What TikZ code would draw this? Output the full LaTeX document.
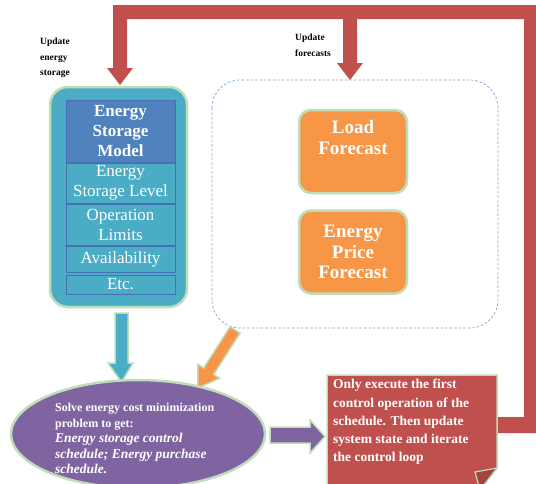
\documentclass[tikz,border=0pt]{standalone}
\usepackage{fontspec}
\setmainfont{Liberation Serif}
\usetikzlibrary{positioning,shapes.geometric}
\definecolor{loopred}{HTML}{C0504D}
\definecolor{storeteal}{HTML}{4BACC6}
\definecolor{headblue}{HTML}{4F81BD}
\definecolor{cellline}{HTML}{4A6FB5}
\definecolor{fcorange}{HTML}{F79646}
\definecolor{solvepurple}{HTML}{8064A2}
\definecolor{rimgreen}{HTML}{BEDDB8}
\definecolor{dashblue}{HTML}{7FA3D0}
\tikzset{
  rim/.style={draw=rimgreen, line width=2.5pt},
  cell/.style={draw=cellline, line width=1pt, fill=storeteal, text=white,
    minimum width=109pt, inner sep=0pt, align=center,
    font=\fontsize{17}{20}\selectfont},
  fcbox/.style={rim, fill=fcorange, rounded corners=12pt, text=white,
    minimum width=108pt, minimum height=83pt, align=center,
    font=\bfseries\fontsize{19}{20.5}\selectfont},
  updlabel/.style={align=left, inner sep=0pt, anchor=north west,
    font=\bfseries\fontsize{9.5}{15.5}\selectfont},
}
\begin{document}
\begin{tikzpicture}[x=1pt,y=-1pt]
  \useasboundingbox (0,0) rectangle (536,483);

  % feedback loop
  \fill[loopred] (497,417) -- (524,417) -- (524,19) -- (357,19) -- (357,63)
    -- (363,63) -- (350,80) -- (337,63) -- (343,63) -- (343,19) -- (127,19)
    -- (127,68) -- (133,68) -- (120,85) -- (107,68) -- (113,68) -- (113,5)
    -- (536,5) -- (536,433) -- (497,433) -- cycle;
  \node[updlabel] (updstore) at (40,38) {Update\\energy\\storage};
  \node[updlabel] (updfc) at (295,34) {Update\\forecasts};

  % storage model
  \draw[rim, fill=storeteal, rounded corners=18pt] (50,87) rectangle (187,307);
  \node[cell, fill=headblue, minimum height=62pt, font=\bfseries\fontsize{17}{20}\selectfont]
    (model) at (120.5,131) {Energy\\Storage\\Model};
  \node[cell, minimum height=40pt, below=0pt of model] (level) {Energy\\Storage Level};
  \node[cell, minimum height=41pt, below=0pt of level] (limits) {Operation\\Limits};
  \node[cell, minimum height=26pt, below=0pt of limits] (avail) {Availability};
  \node[cell, minimum height=19pt, below=2pt of avail] (etc) {Etc.};

  % forecasts
  \draw[dashblue, line width=0.7pt, dash pattern=on 2.5pt off 2pt, rounded corners=28pt]
    (212,80) rectangle (498,328);
  \node[fcbox] (load) at (353,151.5) {Load\\Forecast\\[8pt]};
  \node[fcbox, below=15pt of load] (price) {Energy\\Price\\Forecast};

  % block arrows
  \filldraw[rim, line width=1.5pt, fill=storeteal] (115,313) -- (128,313) -- (128,363)
    -- (133,363) -- (121.5,382) -- (108,363) -- (115,363) -- cycle;
  \filldraw[rim, line width=1.5pt, fill=fcorange] (230,326.8) -- (240,333.2)
    -- (213.7,374.4) -- (219.6,378.2) -- (198,388) -- (197.8,364.2)
    -- (203.7,368) -- cycle;
  \filldraw[rim, line width=1.5pt, fill=solvepurple] (270,427) -- (310,427)
    -- (310,420) -- (325,436.5) -- (310,453) -- (310,443) -- (270,443) -- cycle;

  % optimisation
  \node[ellipse, rim, fill=solvepurple, minimum width=254pt, minimum height=108pt]
    (solve) at (138,434) {};
  \node[align=left, inner sep=0pt, anchor=north west, text=white,
    font=\bfseries\fontsize{12}{15.5}\selectfont] (solvetext) at (55,403)
    {Solve energy cost minimization\\problem to get:\\
     {\itshape\fontsize{13.5}{16.5}\selectfont Energy storage control}\\
     {\itshape\fontsize{13.5}{16.5}\selectfont schedule; Energy purchase}\\
     {\itshape\fontsize{13.5}{16.5}\selectfont schedule.}};

  % receding horizon step
  \filldraw[rim, line width=1.5pt, fill=loopred] (327,375) -- (497,375) -- (497,468)
    -- (480,490) -- (327,490) -- cycle;
  \filldraw[rim, line width=1.2pt, fill=loopred!85!black] (497,468) -- (475,472) -- (480,490) -- cycle;
  \node[align=left, inner sep=0pt, anchor=north west, text=white,
    font=\bfseries\fontsize{13.5}{18.3}\selectfont] (execute) at (333,379)
    {Only execute the first\\control operation of the\\schedule. Then update\\
     system state and iterate\\the control loop};
\end{tikzpicture}
\end{document}
